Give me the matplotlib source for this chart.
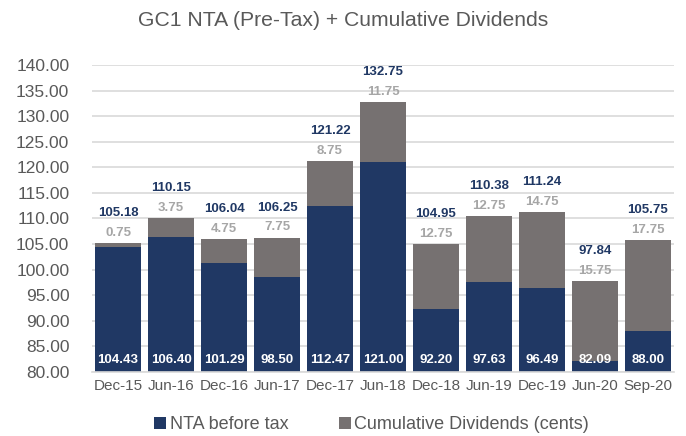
import numpy as np
import matplotlib
matplotlib.use('Agg')
import matplotlib.pyplot as plt

periods = ['Dec-15', 'Jun-16', 'Dec-16', 'Jun-17', 'Dec-17', 'Jun-18',
           'Dec-18', 'Jun-19', 'Dec-19', 'Jun-20', 'Sep-20']
nta = [104.43, 106.40, 101.29, 98.50, 112.47, 121.00,
       92.20, 97.63, 96.49, 82.09, 88.00]
dividends = [0.75, 3.75, 4.75, 7.75, 8.75, 11.75,
             12.75, 12.75, 14.75, 15.75, 17.75]
totals = [105.18, 110.15, 106.04, 106.25, 121.22, 132.75,
          104.95, 110.38, 111.24, 97.84, 105.75]

navy = '#203864'
grey = '#767171'
text_col = '#595959'

plt.rcParams['font.family'] = ['Liberation Sans', 'DejaVu Sans']

fig = plt.figure(figsize=(6.86, 4.36), dpi=100)
ax = fig.add_axes([0.1334, 0.147, 0.8498, 0.704])

x = np.arange(len(periods))
base = 80
ax.bar(x, np.array(nta) - base, bottom=base, width=0.87, color=navy,
       label='NTA before tax', zorder=2)
ax.bar(x, dividends, bottom=nta, width=0.87, color=grey,
       label='Cumulative Dividends (cents)', zorder=2)

for i in range(len(x)):
    top = nta[i] + dividends[i]
    ax.annotate('%.2f' % nta[i], (x[i], base), xytext=(0, 8.5),
                textcoords='offset points', ha='center', va='center',
                color='white', fontsize=9.5, fontweight='bold', zorder=3)
    ax.annotate('%.2f' % dividends[i], (x[i], top), xytext=(0, 7.3),
                textcoords='offset points', ha='center', va='center',
                color='#A6A6A6', fontsize=9.5, fontweight='bold', zorder=3)
    ax.annotate('%.2f' % totals[i], (x[i], top), xytext=(0, 21.6),
                textcoords='offset points', ha='center', va='center',
                color=navy, fontsize=9.5, fontweight='bold', zorder=3)

ax.set_ylim(80, 140)
ax.set_xlim(-0.5, len(x) - 0.5)
ax.set_yticks(np.arange(80, 141, 5))
ax.set_yticklabels(['%.2f' % v for v in np.arange(80, 141, 5)])
ax.set_xticks(x)
ax.set_xticklabels(periods)
ax.tick_params(axis='y', length=0, pad=16, labelsize=12.5, labelcolor=text_col)
ax.tick_params(axis='x', length=0, pad=5, labelsize=11, labelcolor=text_col)

ax.yaxis.grid(True, color='#D9D9D9', linewidth=1.2, zorder=0)
ax.set_axisbelow(True)
for side in ['top', 'right', 'left']:
    ax.spines[side].set_visible(False)
ax.spines['bottom'].set_color('#D9D9D9')
ax.spines['bottom'].set_linewidth(1.2)

fig.text(0.5, 0.953, 'GC1 NTA (Pre-Tax) + Cumulative Dividends',
         ha='center', va='center', fontsize=15.2, color=text_col)

fig.legend(loc='center', bbox_to_anchor=(0.542, 0.026), ncol=2, frameon=False,
           fontsize=13, handlelength=0.65, handleheight=0.65, handletextpad=0.2,
           columnspacing=2.8, labelcolor=text_col)

fig.savefig('out.png', dpi=100)
